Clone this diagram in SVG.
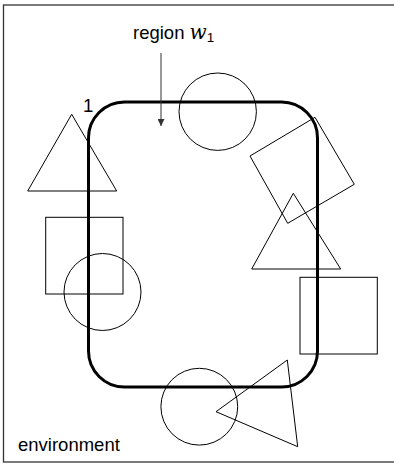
<svg xmlns="http://www.w3.org/2000/svg" width="394" height="472" viewBox="0 0 394 472">
<defs>
<style>
.shape{fill:none;stroke:#000;stroke-width:1}
.lbl{font-family:"Liberation Sans",Arial,sans-serif;font-size:18.5px;fill:#000}
.math{font-family:"DejaVu Serif","Liberation Serif",serif;font-style:italic;fill:#000}
</style>
<marker id="arr" viewBox="0 0 10 10" refX="10" refY="5" markerWidth="7" markerHeight="7" orient="auto" markerUnits="userSpaceOnUse">
<path d="M0,0 L10,5 L0,10 Z" fill="#333"/>
</marker>
</defs>
<rect width="394" height="472" fill="#fff"/>
<g id="environment">
<rect x="3.5" y="5" width="400" height="457" fill="none" stroke="#333" stroke-width="1.3"/>
<text class="lbl" x="18" y="451" font-size="19">environment</text>
</g>
<g id="region">
<rect x="88.5" y="102" width="229" height="285" rx="36" ry="36" fill="none" stroke="#000" stroke-width="3"/>
<text class="lbl" x="83" y="112" font-size="17">1</text>
<text class="lbl" x="133" y="39">region <tspan class="math" font-size="20">w</tspan><tspan font-size="13.5" dy="3">1</tspan></text>
</g>
<g id="connectors">
<line x1="161" y1="53" x2="161" y2="126" stroke="#333" stroke-width="1" marker-end="url(#arr)"/>
</g>
<g id="circle-top"><circle class="shape" cx="217.7" cy="111.7" r="38.7"/></g>
<g id="triangle-left"><polygon class="shape" points="71.7,114.3 27.7,191 116.7,191"/></g>
<g id="square-left"><rect class="shape" x="45.7" y="217.3" width="77.3" height="76.7"/></g>
<g id="circle-left"><circle class="shape" cx="102.5" cy="292" r="38.5"/></g>
<g id="square-rot"><polygon class="shape" points="315,117.3 250,156 287.7,223.3 354.3,184.3"/></g>
<g id="triangle-right"><polygon class="shape" points="293.3,193.3 251.7,269 340.7,269"/></g>
<g id="square-right"><rect class="shape" x="300" y="277.3" width="77.3" height="76.7"/></g>
<g id="circle-bottom"><circle class="shape" cx="199.3" cy="406.7" r="38.4"/></g>
<g id="triangle-bottom"><polygon class="shape" points="287.3,360 216,411.7 297.7,446.7"/></g>
</svg>
